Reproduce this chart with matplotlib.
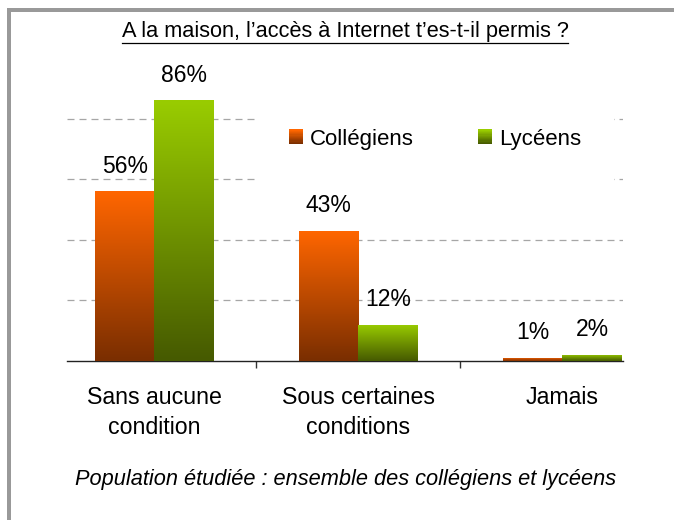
import numpy as np
import matplotlib
matplotlib.use("Agg")
import matplotlib.pyplot as plt
from matplotlib.colors import LinearSegmentedColormap
from matplotlib.patches import Rectangle
from matplotlib.lines import Line2D
from matplotlib.legend_handler import HandlerBase

plt.rcParams['font.family'] = ['Liberation Sans', 'DejaVu Sans']

categories = ["Sans aucune\ncondition", "Sous certaines\nconditions", "Jamais"]
series = ["Collégiens", "Lycéens"]
colleg = [56, 43, 1]
lycee = [86, 12, 2]
title = "A la maison, l\u2019accès à Internet t\u2019es-t-il permis ?"
note = "Population étudiée : ensemble des collégiens et lycéens"

# gradients (top colour, bottom colour)
grad = {
    "Collégiens": ("#ff6600", "#7a2e00"),
    "Lycéens": ("#99cc00", "#465a00"),
}

class GradientHandler(HandlerBase):
    def __init__(self, top, bottom, n=12):
        super().__init__()
        self.cmap = LinearSegmentedColormap.from_list("g", [bottom, top])
        self.n = n

    def create_artists(self, legend, orig_handle, xdescent, ydescent,
                       width, height, fontsize, trans):
        arts = []
        for i in range(self.n):
            r = Rectangle((-xdescent, -ydescent + height * i / self.n),
                          width, height / self.n + 0.3,
                          facecolor=self.cmap(i / (self.n - 1)),
                          edgecolor='none', transform=trans)
            arts.append(r)
        return arts


fig = plt.figure(figsize=(6.74, 5.2), dpi=100)
W, H = 674, 520
ax_left, ax_right, ax_base = 67, 623, 361
ymax = 95
px_per = 3.03
ax_top = ax_base - ymax * px_per
ax = fig.add_axes([ax_left / W, (H - ax_base) / H,
                   (ax_right - ax_left) / W, (ax_base - ax_top) / H])

x = np.arange(len(categories))
bw = 0.29

for vals, name, off in [(colleg, series[0], -bw / 2), (lycee, series[1], bw / 2)]:
    bars = ax.bar(x + off, vals, width=bw, color='none', edgecolor='none', zorder=3)
    cmap = LinearSegmentedColormap.from_list(name, [grad[name][1], grad[name][0]])
    for b, v in zip(bars, vals):
        x0, y0 = b.get_x(), b.get_y()
        img = ax.imshow(np.linspace(0, 1, 100).reshape(-1, 1), cmap=cmap, origin='lower',
                        extent=[x0, x0 + b.get_width(), y0, y0 + b.get_height()],
                        aspect='auto', zorder=3, interpolation='bicubic')
        img.set_clip_path(b)
        ax.annotate(f"{v}%", (x0 + b.get_width() / 2, v), xytext=(0, 18),
                    textcoords='offset points', ha='center', va='center',
                    fontsize=16.5, zorder=5)

ax.set_aspect('auto')
ax.set_xlim(-0.429, 2.297)
ax.set_ylim(0, ymax)

for gy in [20, 40, 60, 80]:
    ax.axhline(gy, color='#a6a6a6', lw=0.9, linestyle=(0, (5.6, 4)), zorder=1)

for s in ['top', 'right', 'left']:
    ax.spines[s].set_visible(False)
ax.spines['bottom'].set_color('#222222')
ax.spines['bottom'].set_linewidth(1.0)
ax.set_yticks([])
ax.set_xticks(x)
ax.set_xticklabels(categories, fontsize=16.7, linespacing=1.38)
ax.tick_params(axis='x', which='major', length=0, pad=18)
ax.set_xticks([0.5, 1.5], minor=True)
ax.tick_params(axis='x', which='minor', length=5, width=1, color='#333333', direction='out')

handles = [Rectangle((0, 0), 1, 1), Rectangle((0, 0), 1, 1)]
leg = ax.legend(handles, series, loc='center', bbox_to_anchor=(0.662, 0.771),
                ncol=2, prop={'size': 16},
                frameon=True, facecolor='white', edgecolor='none', framealpha=1,
                fancybox=False, borderpad=1.45, handlelength=0.64, handleheight=0.64,
                handletextpad=0.32, columnspacing=2.9,
                handler_map={handles[0]: GradientHandler(*grad[series[0]]),
                             handles[1]: GradientHandler(*grad[series[1]])})
leg.set_zorder(2)

t = fig.text(345 / W, 1 - 31 / H, title, ha='center', va='center', fontsize=15.7)
fig.text(346 / W, 1 - 479 / H, note, ha='center', va='center', fontsize=15.7, style='italic')

# frame
border = '#999999'
fig.add_artist(Rectangle((7 / W, 0), 4 / W, (H - 8) / H, transform=fig.transFigure,
                         facecolor=border, edgecolor='none'))
fig.add_artist(Rectangle((7 / W, (H - 12) / H), (W - 7) / W, 4 / H, transform=fig.transFigure,
                         facecolor=border, edgecolor='none'))

# underline title
fig.canvas.draw()
bb = t.get_window_extent().transformed(fig.transFigure.inverted())
uy = 1 - 42.5 / H
fig.add_artist(Line2D([bb.x0, bb.x1], [uy, uy], transform=fig.transFigure,
                      color='black', lw=0.9))

fig.savefig("out.png", dpi=100)
